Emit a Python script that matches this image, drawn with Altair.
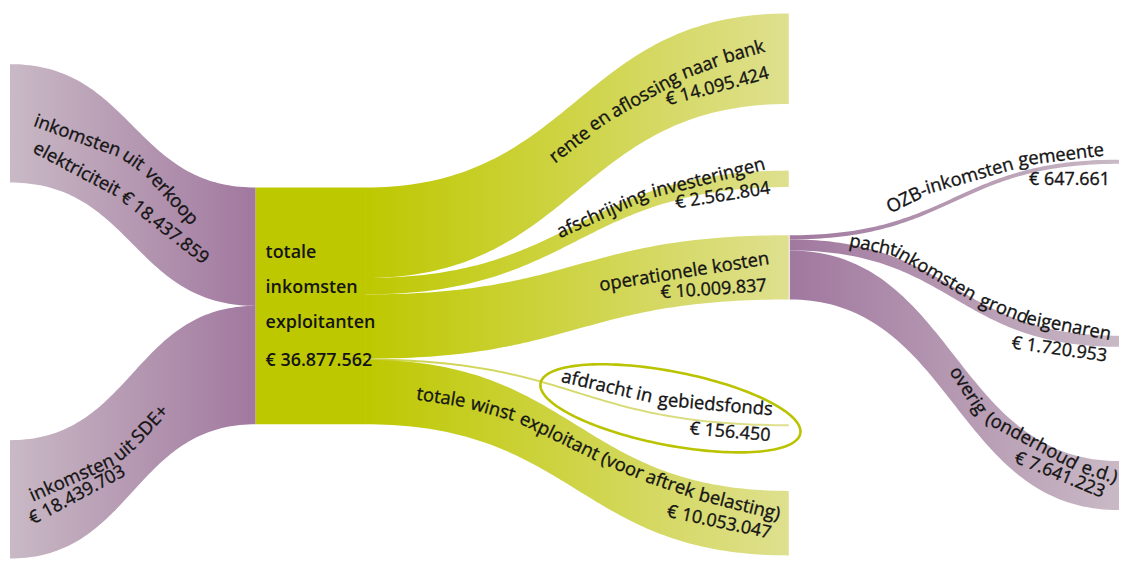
import altair as alt
import numpy as np
import pandas as pd

# ---------------- data ----------------
income_names = ["inkomsten uit verkoop elektriciteit", "inkomsten uit SDE+"]
income_values = [18437859, 18439703]
total_lines = ["totale", "inkomsten", "exploitanten"]
total_value = 36877562
spend_names = ["rente en aflossing naar bank", "afschrijving investeringen",
               "operationele kosten", "afdracht in gebiedsfonds",
               "totale winst exploitant (voor aftrek belasting)"]
spend_values = [14095424, 2562804, 10009837, 156450, 10053047]
cost_names = ["OZB-inkomsten gemeente", "pachtinkomsten grondeigenaren",
              "overig (onderhoud e.d.)"]
cost_values = [647661, 1720953, 7641223]


def eur(v):
    return "€ " + f"{v:,}".replace(",", ".")


# ---------------- layout ----------------
K = 238.0 / total_value          # px per euro
SRC_X = 10
NODE_X0, NODE_X1, NODE_Y0 = 257, 367, 187
SPEND_X = 793
COST_X0, COST_X1 = 794, 1125
income_top = [63, 441]
spend_top = [12, 170, 235, 425, 492]
cost_top = [159, 336, 462]

PURPLE_DARK = "#a1789f"
PURPLE_LIGHT = "#c9b9c5"
GREEN = "#bec800"
GREEN_LIGHT = "#dfe08f"
FONT = "Open Sans"
FS_WORD = 18.5
FS_NUM = 18


def band(x0, x1, ya, yb, th, n=90):
    t = np.linspace(0, 1, n)
    xm = (x0 + x1) / 2
    x = (1 - t) ** 3 * x0 + 3 * (1 - t) ** 2 * t * xm + 3 * (1 - t) * t ** 2 * xm + t ** 3 * x1
    s = 3 * t ** 2 - 2 * t ** 3
    top = ya + (yb - ya) * s
    return pd.DataFrame({"x": x, "y": top, "y2": top + th})


def grad(c0, c1):
    return alt.Gradient(gradient="linear",
                        stops=[alt.GradientStop(color=c0, offset=0),
                               alt.GradientStop(color=c1, offset=1)],
                        x1=0, x2=1, y1=0, y2=0)


X = alt.X("x:Q", scale=alt.Scale(domain=[8, 1120], nice=False, zero=False), axis=None)
Y = alt.Y("y:Q", scale=alt.Scale(domain=[8, 553], nice=False, zero=False, reverse=True), axis=None)

layers = []

# income flows
cur = NODE_Y0
for name, v, yt in zip(income_names, income_values, income_top):
    th = v * K
    df = band(SRC_X, NODE_X0, yt, cur, th)
    cur += th
    layers.append(alt.Chart(df).mark_area(color=grad(PURPLE_LIGHT, PURPLE_DARK))
                  .encode(x=X, y=Y, y2="y2:Q"))

# central node
node_df = pd.DataFrame({"x": [NODE_X0], "x2": [NODE_X1 + 0.5], "y": [NODE_Y0],
                        "y2": [NODE_Y0 + total_value * K]})
layers.append(alt.Chart(node_df).mark_rect(color=GREEN)
              .encode(x=X, x2="x2:Q", y=Y, y2="y2:Q"))

# spend flows
cur = NODE_Y0
for name, v, yt in zip(spend_names, spend_values, spend_top):
    th = v * K
    dth = max(th, 2.0)
    df = band(NODE_X1, SPEND_X, cur, yt, dth)
    cur += th
    c0 = GREEN if th > 2 else "#cdd34a"
    layers.append(alt.Chart(df).mark_area(color=grad(c0, GREEN_LIGHT))
                  .encode(x=X, y=Y, y2="y2:Q"))

# cost flows (split of operationele kosten)
cur = spend_top[2]
for name, v, yt in zip(cost_names, cost_values, cost_top):
    th = v * K
    df = band(COST_X0, COST_X1, cur, yt, th)
    cur += th
    layers.append(alt.Chart(df).mark_area(color=grad(PURPLE_DARK, PURPLE_LIGHT))
                  .encode(x=X, y=Y, y2="y2:Q"))

# ellipse annotation around 'afdracht in gebiedsfonds'
ecx, ecy, ea, eb, erot = 674, 409, 133, 37, np.radians(11)
tt = np.linspace(0, 2 * np.pi, 160)
ex = ecx + ea * np.cos(tt) * np.cos(erot) - eb * np.sin(tt) * np.sin(erot)
ey = ecy + ea * np.cos(tt) * np.sin(erot) + eb * np.sin(tt) * np.cos(erot)
ell_df = pd.DataFrame({"x": ex, "y": ey, "i": np.arange(len(tt))})
layers.append(alt.Chart(ell_df).mark_line(color="#bac300", strokeWidth=2.6)
              .encode(x=X, y=Y, order="i:Q"))

# curved labels, placed word by word: (text, x, y, angle)
words = [
    # inkomsten uit verkoop elektriciteit
    ("inkomsten", 33, 125, 20), ("uit", 121.5, 157.5, 35), ("verkoop", 144.5, 173.5, 48),
    ("elektriciteit", 32, 151, 28),
    # inkomsten uit SDE+
    ("inkomsten", 33, 503, 336), ("uit", 120, 463, 320), ("SDE+", 140, 445, 313),
    # rente en aflossing naar bank
    ("rente", 558, 163, 322), ("en", 597, 131, 326), ("aflossing", 618, 117, 331),
    ("naar", 688, 78, 339), ("bank", 729, 62, 344),
    # afschrijving investeringen
    ("afschrijving", 563, 238, 336), ("investeringen", 657, 197, 346),
    # afdracht in gebiedsfonds
    ("afdracht in", 563.5, 382.3, 13), ("gebiedsfonds", 661, 406, 5),
    # totale winst exploitant (voor aftrek belasting)
    ("totale", 418, 400, 9), ("winst", 472, 409.5, 15), ("exploitant", 521, 423.5, 26),
    ("(voor", 603, 464, 22), ("aftrek", 648, 482.5, 19), ("belasting)", 701.5, 501.3, 14),
    # OZB-inkomsten gemeente
    ("OZB-", 895, 213, 334), ("inkomsten", 932.5, 193.5, 344), ("gemeente", 1024.5, 165.3, 353),
    # pachtinkomsten grondeigenaren
    ("pacht", 853, 246, 12), ("inkomsten", 898, 255.5, 30), ("grond", 983.5, 305, 22),
    ("eigenaren", 1031, 324, 11),
    # overig (onderhoud e.d.)
    ("overig", 954, 372, 57), ("(onderhoud", 989.5, 423, 28), ("e.d.)", 1086, 473.2, 18),
]
# right-aligned labels (anchored at their right end): (text, x, y, angle)
right_labels = [
    ("operationele kosten", 774, 264, 351),
]
# value labels: (text, x, y, angle, align)
values = [
    (eur(income_values[0]), 120, 199, 38, "left"),
    (eur(income_values[1]), 33, 526, 332, "left"),
    (eur(spend_values[0]), 774, 77, 345, "right"),
    (eur(spend_values[1]), 775, 193, 351, "right"),
    (eur(spend_values[2]), 771, 291, 356, "right"),
    (eur(spend_values[3]), 774, 442, 5, "right"),
    (eur(spend_values[4]), 774, 540, 12, "right"),
    (eur(cost_values[0]), 1116, 184, 0, "right"),
    (eur(cost_values[1]), 1112, 362, 8, "right"),
    (eur(cost_values[2]), 1108, 499, 22, "right"),
]

word_df = pd.DataFrame(words, columns=["text", "x", "y", "angle"])
right_df = pd.DataFrame(right_labels, columns=["text", "x", "y", "angle"])
val_df = pd.DataFrame(values, columns=["text", "x", "y", "angle", "align"])

TXT = dict(font=FONT, baseline="alphabetic", color="#141414",
           stroke="#141414", strokeWidth=0.35)
ANG = alt.Angle("angle:Q", scale=None)

layers.append(alt.Chart(word_df).mark_text(align="left", fontSize=FS_WORD, **TXT)
              .encode(x=X, y=Y, text="text:N", angle=ANG))
layers.append(alt.Chart(right_df).mark_text(align="right", fontSize=FS_WORD, **TXT)
              .encode(x=X, y=Y, text="text:N", angle=ANG))
for al in ["left", "right"]:
    sub = val_df[val_df["align"] == al]
    layers.append(alt.Chart(sub).mark_text(align=al, fontSize=FS_NUM, **TXT)
                  .encode(x=X, y=Y, text="text:N", angle=ANG))

node_lab = pd.DataFrame({"text": total_lines + [eur(total_value)],
                         "x": [267, 267, 267, 267],
                         "y": [258, 293, 328, 366]})
layers.append(alt.Chart(node_lab).mark_text(font=FONT, fontSize=18, fontWeight=600,
                                            align="left", baseline="alphabetic",
                                            color="#141414")
              .encode(x=X, y=Y, text="text:N"))

chart = (alt.layer(*layers)
         .properties(width=1112, height=545, padding=0)
         .configure_view(stroke=None))

chart.save("out.html", embed_options={"renderer": "svg", "actions": False})
